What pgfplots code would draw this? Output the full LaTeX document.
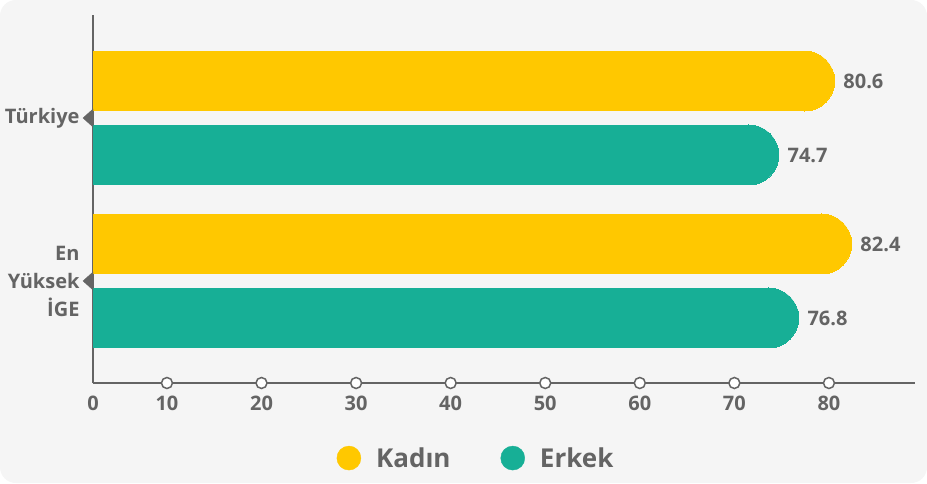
\documentclass[border=0pt]{standalone}
\usepackage{fontspec}
\setmainfont{Open Sans}
\usepackage{pgfplots}
\pgfplotsset{compat=1.18}
\definecolor{bg}{HTML}{F5F5F5}
\definecolor{kadin}{HTML}{FFC800}
\definecolor{erkek}{HTML}{17AF96}
\definecolor{ink}{HTML}{646464}

% bar body (square left end) and round right end
\pgfplotsset{
  barbody/.style={forget plot, color=#1, line width=60pt, line cap=butt, shorten >=30pt},
  barend/.style={forget plot, color=#1, only marks, mark=*, mark size=30pt,
    mark options={fill=#1, draw=#1, line width=0pt, xshift=-30pt},
    nodes near coords, point meta=explicit symbolic},
}

\begin{document}
\begin{tikzpicture}
\useasboundingbox (0,0) rectangle (927pt,483pt);
\fill[white] (0,0) rectangle (927pt,483pt);
\fill[bg, rounded corners=16pt] (0,0) rectangle (927pt,483pt);
\begin{axis}[
  at={(93pt,100pt)}, anchor=south west,
  scale only axis, width=822pt, height=368pt,
  xmin=2.18, xmax=89.1, ymin=-0.626, ymax=1.632,
  clip=false,
  axis lines=left,
  axis line style={-, draw=ink, line width=2.2pt},
  xtick={2.18,10,20,30,40,50,60,70,80},
  xticklabels={0,10,20,30,40,50,60,70,80},
  ytick={0,1},
  yticklabels={{En\\Yüksek\\İGE},Türkiye},
  major tick length=0pt,
  tick label style={font=\fontsize{20}{28}\selectfont\bfseries, text=ink},
  xticklabel style={yshift=-9pt},
  yticklabel style={align=right, xshift=-10pt},
  legend style={at={(axis description cs:0.466,-0.204)}, anchor=center,
    draw=none, fill=none, legend columns=2,
    font=\fontsize{26}{30}\selectfont\bfseries, text=ink,
    /tikz/every odd column/.append style={column sep=13pt},
    /tikz/every even column/.append style={column sep=48pt}},
  every node near coord/.append style={font=\fontsize{20}{24}\selectfont\bfseries,
    text=ink, anchor=west, xshift=35.5pt},
]
\addplot[barbody=kadin] coordinates {(2.18,1.227) (80.6,1.227)};
\addplot[barend=kadin] coordinates {(80.6,1.227) [80.6]};
\addplot[barbody=erkek] coordinates {(2.18,0.773) (74.7,0.773)};
\addplot[barend=erkek] coordinates {(74.7,0.773) [74.7]};
\addplot[barbody=kadin] coordinates {(2.18,0.227) (82.4,0.227)};
\addplot[barend=kadin] coordinates {(82.4,0.227) [82.4]};
\addplot[barbody=erkek] coordinates {(2.18,-0.227) (76.8,-0.227)};
\addplot[barend=erkek] coordinates {(76.8,-0.227) [76.8]};

% tick markers
\addplot[forget plot, only marks, mark=*, mark size=5.5pt,
  mark options={fill=white, draw=ink, line width=1.5pt}]
  coordinates {(10,-0.626) (20,-0.626) (30,-0.626) (40,-0.626) (50,-0.626) (60,-0.626) (70,-0.626) (80,-0.626)};
\addplot[forget plot, only marks, color=ink, mark=triangle*, mark size=10.4pt,
  mark options={fill=ink, draw=none, xshift=-3.3pt, xscale=0.64, rotate=90}]
  coordinates {(2.18,0) (2.18,1)};

\addlegendimage{legend image code/.code={\fill[kadin] (0pt,0pt) circle (12pt);}}
\addlegendentry{Kadın}
\addlegendimage{legend image code/.code={\fill[erkek] (0pt,0pt) circle (12pt);}}
\addlegendentry{Erkek}
\end{axis}
\end{tikzpicture}
\end{document}
